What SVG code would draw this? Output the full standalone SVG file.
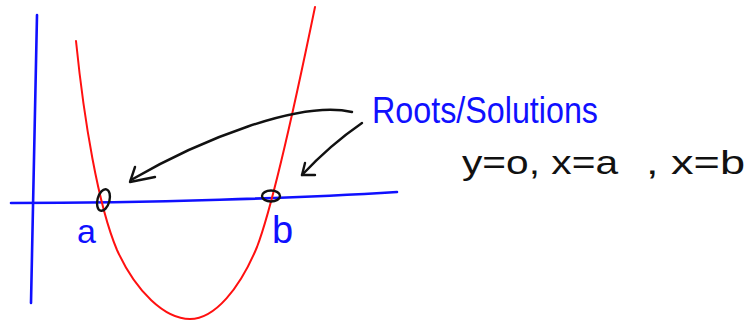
<svg xmlns="http://www.w3.org/2000/svg" width="749" height="320" viewBox="0 0 749 320">
<style>
.blue{stroke:#1010ff;stroke-width:2.6;fill:none;stroke-linecap:round;stroke-linejoin:round}
.red{stroke:#ff1010;stroke-width:2;fill:none;stroke-linecap:round}
.ink{stroke:#111;stroke-width:2.4;fill:none;stroke-linecap:round;stroke-linejoin:round}
.bt{fill:#1010ff;font-family:"Liberation Sans","DejaVu Sans",sans-serif}
.kt{fill:#111;font-family:"Liberation Sans","DejaVu Sans",sans-serif}
</style>
<rect width="749" height="320" fill="#fff"/>
<g id="axes">
<path class="blue" d="M37,15 L31,303"/>
<path class="blue" d="M11,203 C150,203 300,198 397,192"/>
</g>
<g id="parabola">
<path class="red" d="M76,41 C84,120 98,205 117,250 C136,292 165,319 190,319 C215,319 240,288 257,247 C275,200 300,80 315,7"/>
</g>
<g id="root-a">
<ellipse class="ink" cx="103.5" cy="200" rx="6" ry="11" transform="rotate(15 103.5 200)"/>
<text class="bt" x="77" y="243" font-size="34">a</text>
</g>
<g id="root-b">
<ellipse class="ink" cx="271" cy="196" rx="9" ry="5.5"/>
<text class="bt" x="272" y="243" font-size="38">b</text>
</g>
<g id="label">
<text class="bt" x="372" y="123" font-size="36" textLength="226" lengthAdjust="spacingAndGlyphs">Roots/Solutions</text>
</g>
<g id="equations">
<text class="kt" x="462" y="174" font-size="34" textLength="156" lengthAdjust="spacingAndGlyphs">y=o, x=a</text>
<text class="kt" x="646" y="174" font-size="34" textLength="99" lengthAdjust="spacingAndGlyphs">, x=b</text>
</g>
<g id="connectors">
<path class="ink" d="M352,112 C300,100 200,140 131,180"/>
<path class="ink" d="M135,167 L130,182 L155,177"/>
<path class="ink" d="M362,123 Q330,145 302,175"/>
<path class="ink" d="M305,163 L302,175 L315,175"/>
</g>
</svg>
